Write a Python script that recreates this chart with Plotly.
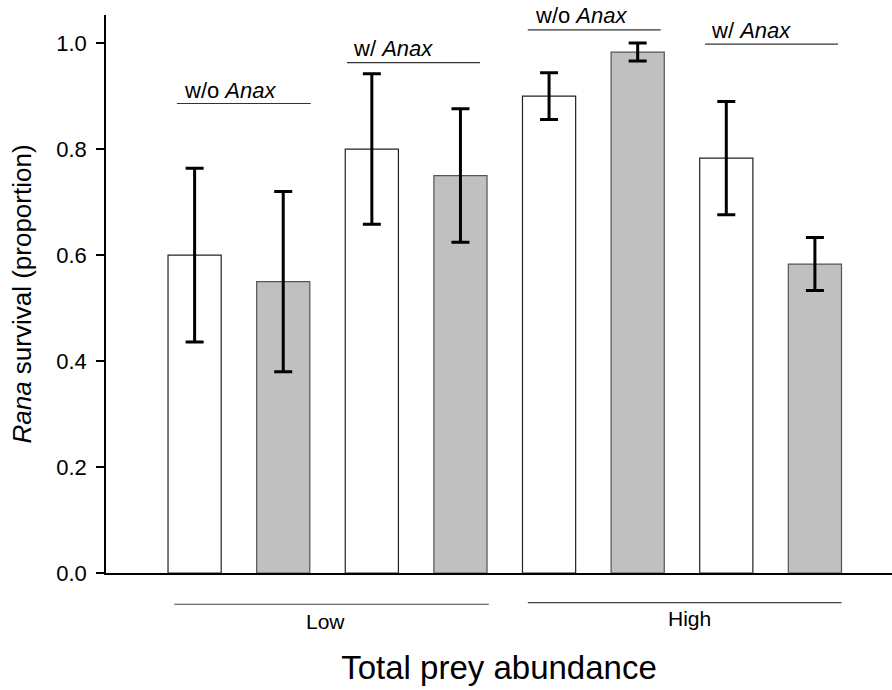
import plotly.graph_objects as go

# ---- data ----
positions = [0, 1, 2, 3, 4, 5, 6, 7]
abundance = ["Low", "Low", "Low", "Low", "High", "High", "High", "High"]
survival = [0.600, 0.550, 0.800, 0.750, 0.900, 0.983, 0.783, 0.583]
survival_se = [0.164, 0.170, 0.142, 0.126, 0.044, 0.017, 0.107, 0.050]
bar_fill = ["white", "#C0C0C0", "white", "#C0C0C0", "white", "#C0C0C0", "white", "#C0C0C0"]
bar_edge = ["#222222", "#555555", "#222222", "#555555", "#222222", "#555555", "#222222", "#555555"]

# bracket labels above bar pairs
pred_labels = ["w/o <i>Anax</i>", "w/ <i>Anax</i>", "w/o <i>Anax</i>", "w/ <i>Anax</i>"]
pred_x0 = [-0.2, 1.72, 3.76, 5.76]
pred_x1 = [1.31, 3.22, 5.26, 7.26]
pred_line_y = [0.886, 0.963, 1.025, 0.998]
pred_text_x = [-0.14, 1.77, 3.815, 5.81]
pred_text_y = [0.911, 0.989, 1.053, 1.023]

# group labels below axis
group_labels = ["Low", "High"]
group_x0 = [-0.23, 3.76]
group_x1 = [3.32, 7.30]
group_line_y = [-0.059, -0.056]
group_text_x = [1.48, 5.59]
group_text_y = [-0.092, -0.086]

XMIN, XMAX = -1.0, 7.87
YMIN, YMAX = 0.0, 1.053

def px(x):
    return (x - XMIN) / (XMAX - XMIN)

def py(y):
    return (y - YMIN) / (YMAX - YMIN)

FONT = "Liberation Sans, Arial, Helvetica, sans-serif"

fig = go.Figure()
fig.add_trace(go.Bar(
    x=positions, y=survival, width=0.6,
    marker=dict(color=bar_fill, line=dict(color=bar_edge, width=1.2)),
    error_y=dict(type="data", array=survival_se, visible=True,
                 color="black", thickness=3, width=9),
    customdata=abundance,
    showlegend=False,
))

shapes = []
annotations = []
for lab, x0, x1, ly, tx, ty in zip(pred_labels, pred_x0, pred_x1, pred_line_y, pred_text_x, pred_text_y):
    shapes.append(dict(type="line", xref="x", yref="y", x0=x0, x1=x1, y0=ly, y1=ly,
                       line=dict(color="#333333", width=1.2)))
    annotations.append(dict(text=lab, xref="x", yref="y", x=tx, y=ty, xanchor="left",
                            yanchor="middle", showarrow=False,
                            font=dict(family=FONT, size=22, color="black")))

for lab, x0, x1, ly, tx, ty in zip(group_labels, group_x0, group_x1, group_line_y, group_text_x, group_text_y):
    shapes.append(dict(type="line", xref="paper", yref="paper", x0=px(x0), x1=px(x1),
                       y0=py(ly), y1=py(ly), line=dict(color="#444444", width=1.2)))
    annotations.append(dict(text=lab, xref="paper", yref="paper", x=px(tx), y=py(ty),
                            xanchor="center", yanchor="middle", showarrow=False,
                            font=dict(family=FONT, size=21, color="black")))

fig.update_layout(
    width=892, height=690, autosize=False,
    margin=dict(l=106, r=0, t=15, b=117, pad=0),
    paper_bgcolor="white", plot_bgcolor="white",
    font=dict(family=FONT, color="black"),
    shapes=shapes, annotations=annotations,
    bargap=0.4,
    xaxis=dict(range=[XMIN, XMAX], showline=True, linecolor="black", linewidth=2,
               showticklabels=False, ticks="", showgrid=False, zeroline=False,
               title=dict(text="Total prey abundance", font=dict(family=FONT, size=33),
                          standoff=82)),
    yaxis=dict(range=[YMIN, YMAX], showline=True, linecolor="black", linewidth=1.5,
               ticks="outside", ticklen=8, tickwidth=1.5, tickcolor="black",
               tickvals=[0, 0.2, 0.4, 0.6, 0.8, 1.0], tickformat=".1f",
               ticklabelstandoff=5,
               tickfont=dict(family=FONT, size=22), showgrid=False, zeroline=False,
               title=dict(text="<i>Rana</i> survival (proportion)",
                          font=dict(family=FONT, size=26), standoff=17)),
)

fig.write_html("out.html")
